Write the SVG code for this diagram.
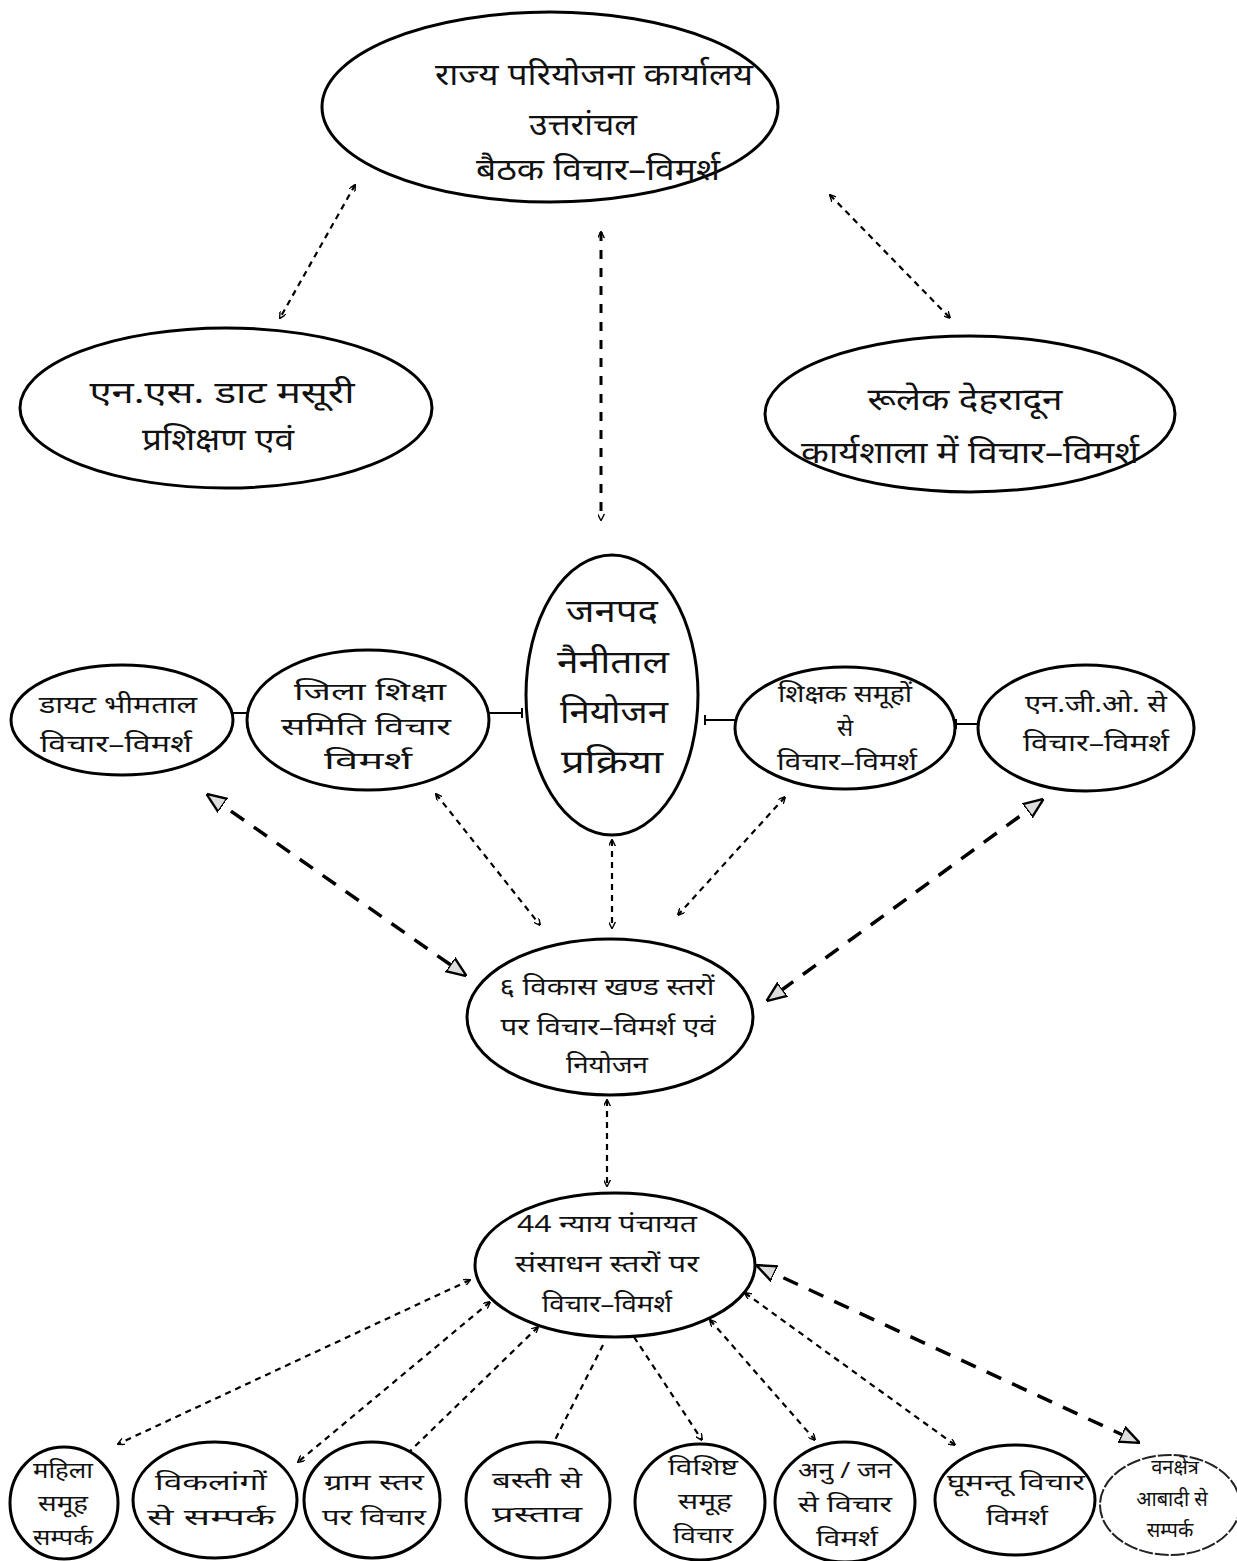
<svg xmlns="http://www.w3.org/2000/svg" width="1237" height="1561" viewBox="0 0 1237 1561">
<defs>
<style>
.n{fill:#fff;stroke:#000;stroke-width:3}
.nf{fill:#fff;stroke:#222;stroke-width:2;stroke-dasharray:14 2}
.t{font-family:"Noto Sans","Noto Sans Devanagari","Lohit Devanagari",sans-serif;fill:#111;text-anchor:middle}
.c{fill:none;stroke:#000;stroke-width:2.2;stroke-dasharray:6 5}
.cb{fill:none;stroke:#000;stroke-width:3.5;stroke-dasharray:16 12}
.cv{fill:none;stroke:#000;stroke-width:3;stroke-dasharray:9 9}
.h{fill:none;stroke:#000;stroke-width:2}
</style>
<marker id="a" viewBox="0 0 10 10" refX="9" refY="5" markerWidth="7" markerHeight="7" orient="auto-start-reverse" markerUnits="userSpaceOnUse">
<path d="M0,0 L10,5 L0,10" fill="none" stroke="#000" stroke-width="2"/>
</marker>
<marker id="ab" viewBox="0 0 10 10" refX="9" refY="5" markerWidth="20" markerHeight="20" orient="auto-start-reverse" markerUnits="userSpaceOnUse">
<path d="M0,1 L10,5 L0,9 Z" fill="#ddd" stroke="#000" stroke-width="1.2"/>
</marker>
</defs>
<rect width="1237" height="1561" fill="#fff"/>

<g id="connectors">
<line class="c" x1="355" y1="185" x2="280" y2="318" marker-start="url(#a)" marker-end="url(#a)"/>
<line class="cv" x1="601" y1="232" x2="601" y2="520" marker-start="url(#a)" marker-end="url(#a)"/>
<line class="c" x1="830" y1="195" x2="950" y2="318" marker-start="url(#a)" marker-end="url(#a)"/>
<line class="h" x1="233" y1="713" x2="248" y2="713"/><line class="h" x1="248" y1="708" x2="248" y2="718"/>
<line class="h" x1="488" y1="713" x2="522" y2="713"/><line class="h" x1="522" y1="708" x2="522" y2="718"/>
<line class="h" x1="705" y1="720" x2="736" y2="720"/><line class="h" x1="705" y1="715" x2="705" y2="725"/>
<line class="h" x1="956" y1="724" x2="978" y2="724"/><line class="h" x1="956" y1="719" x2="956" y2="729"/>
<line class="cb" x1="208" y1="795" x2="465" y2="975" marker-start="url(#ab)" marker-end="url(#ab)"/>
<line class="c" x1="436" y1="794" x2="540" y2="925" marker-start="url(#a)" marker-end="url(#a)"/>
<line class="c" x1="612" y1="840" x2="612" y2="928" marker-start="url(#a)" marker-end="url(#a)"/>
<line class="c" x1="785" y1="797" x2="678" y2="915" marker-start="url(#a)" marker-end="url(#a)"/>
<line class="cb" x1="1042" y1="800" x2="768" y2="1000" marker-start="url(#ab)" marker-end="url(#ab)"/>
<line class="c" x1="607" y1="1100" x2="607" y2="1186" marker-start="url(#a)" marker-end="url(#a)"/>
<line class="c" x1="470" y1="1280" x2="118" y2="1444" marker-start="url(#a)" marker-end="url(#a)"/>
<line class="c" x1="490" y1="1302" x2="298" y2="1462" marker-start="url(#a)" marker-end="url(#a)"/>
<line class="c" x1="538" y1="1327" x2="405" y2="1456" marker-start="url(#a)" marker-end="url(#a)"/>
<line class="c" x1="603" y1="1345" x2="555" y2="1440"/>
<line class="c" x1="634" y1="1337" x2="702" y2="1440" marker-end="url(#a)"/>
<line class="c" x1="710" y1="1320" x2="815" y2="1440" marker-start="url(#a)" marker-end="url(#a)"/>
<line class="c" x1="745" y1="1293" x2="955" y2="1445" marker-start="url(#a)" marker-end="url(#a)"/>
<line class="cb" x1="758" y1="1266" x2="1138" y2="1442" marker-start="url(#ab)" marker-end="url(#ab)"/>
</g>

<g id="n-top"><ellipse class="n" cx="550" cy="107" rx="228" ry="95"/>
<text class="t" font-size="31"><tspan x="594" y="85" textLength="318" lengthAdjust="spacingAndGlyphs">राज्य परियोजना कार्यालय</tspan><tspan x="583" y="135" textLength="108" lengthAdjust="spacingAndGlyphs">उत्तरांचल</tspan><tspan x="598" y="180" textLength="244" lengthAdjust="spacingAndGlyphs">बैठक विचार–विमर्श</tspan></text></g>

<g id="n-nsdat"><ellipse class="n" cx="226" cy="408" rx="206" ry="80"/>
<text class="t" font-size="31"><tspan x="222" y="403" textLength="265" lengthAdjust="spacingAndGlyphs">एन.एस. डाट मसूरी</tspan><tspan x="218" y="450" textLength="152" lengthAdjust="spacingAndGlyphs">प्रशिक्षण एवं</tspan></text></g>

<g id="n-rulek"><ellipse class="n" cx="970" cy="414" rx="205" ry="78"/>
<text class="t" font-size="31"><tspan x="965" y="410" textLength="195" lengthAdjust="spacingAndGlyphs">रूलेक देहरादून</tspan><tspan x="970" y="463" textLength="338" lengthAdjust="spacingAndGlyphs">कार्यशाला में विचार–विमर्श</tspan></text></g>

<g id="n-janpad"><ellipse class="n" cx="612" cy="695" rx="86" ry="140"/>
<text class="t" font-size="32"><tspan x="612" y="622" textLength="92" lengthAdjust="spacingAndGlyphs">जनपद</tspan><tspan x="613" y="673" textLength="112" lengthAdjust="spacingAndGlyphs">नैनीताल</tspan><tspan x="614" y="723" textLength="108" lengthAdjust="spacingAndGlyphs">नियोजन</tspan><tspan x="612" y="773" textLength="102" lengthAdjust="spacingAndGlyphs">प्रक्रिया</tspan></text></g>

<g id="n-diet"><ellipse class="n" cx="122" cy="720" rx="111" ry="55"/>
<text class="t" font-size="24"><tspan x="118" y="713" textLength="158" lengthAdjust="spacingAndGlyphs">डायट भीमताल</tspan><tspan x="116" y="752" textLength="152" lengthAdjust="spacingAndGlyphs">विचार–विमर्श</tspan></text></g>

<g id="n-jila"><ellipse class="n" cx="368" cy="720" rx="121" ry="70"/>
<text class="t" font-size="24"><tspan x="370" y="700" textLength="152" lengthAdjust="spacingAndGlyphs">जिला शिक्षा</tspan><tspan x="366" y="735" textLength="170" lengthAdjust="spacingAndGlyphs">समिति विचार</tspan><tspan x="368" y="769" textLength="88" lengthAdjust="spacingAndGlyphs">विमर्श</tspan></text></g>

<g id="n-shikshak"><ellipse class="n" cx="845" cy="728" rx="110" ry="61"/>
<text class="t" font-size="24"><tspan x="845" y="702" textLength="134" lengthAdjust="spacingAndGlyphs">शिक्षक समूहों</tspan><tspan x="845" y="736">से</tspan><tspan x="847" y="770" textLength="140" lengthAdjust="spacingAndGlyphs">विचार–विमर्श</tspan></text></g>

<g id="n-ngo"><ellipse class="n" cx="1086" cy="728" rx="108" ry="63"/>
<text class="t" font-size="24"><tspan x="1096" y="712" textLength="142" lengthAdjust="spacingAndGlyphs">एन.जी.ओ. से</tspan><tspan x="1096" y="751" textLength="146" lengthAdjust="spacingAndGlyphs">विचार–विमर्श</tspan></text></g>

<g id="n-block"><ellipse class="n" cx="610" cy="1017" rx="143" ry="78"/>
<text class="t" font-size="24"><tspan x="607" y="995" textLength="215" lengthAdjust="spacingAndGlyphs">६ विकास खण्ड स्तरों</tspan><tspan x="608" y="1035" textLength="215" lengthAdjust="spacingAndGlyphs">पर विचार–विमर्श एवं</tspan><tspan x="607" y="1073" textLength="82" lengthAdjust="spacingAndGlyphs">नियोजन</tspan></text></g>

<g id="n-nyay"><ellipse class="n" cx="615" cy="1265" rx="140" ry="72"/>
<text class="t" font-size="24"><tspan x="607" y="1232" textLength="180" lengthAdjust="spacingAndGlyphs">44 न्याय पंचायत</tspan><tspan x="607" y="1272" textLength="184" lengthAdjust="spacingAndGlyphs">संसाधन स्तरों पर</tspan><tspan x="607" y="1312" textLength="130" lengthAdjust="spacingAndGlyphs">विचार–विमर्श</tspan></text></g>

<g id="n-b1"><ellipse class="n" cx="64" cy="1503" rx="54" ry="56"/>
<text class="t" font-size="22"><tspan x="63" y="1478" textLength="60" lengthAdjust="spacingAndGlyphs">महिला</tspan><tspan x="63" y="1511" textLength="50" lengthAdjust="spacingAndGlyphs">समूह</tspan><tspan x="63" y="1545" textLength="60" lengthAdjust="spacingAndGlyphs">सम्पर्क</tspan></text></g>
<g id="n-b2"><ellipse class="n" cx="215" cy="1500" rx="82" ry="58"/>
<text class="t" font-size="22"><tspan x="211" y="1490" textLength="112" lengthAdjust="spacingAndGlyphs">विकलांगों</tspan><tspan x="211" y="1525" textLength="128" lengthAdjust="spacingAndGlyphs">से सम्पर्क</tspan></text></g>
<g id="n-b3"><ellipse class="n" cx="372" cy="1500" rx="68" ry="58"/>
<text class="t" font-size="22"><tspan x="374" y="1490" textLength="100" lengthAdjust="spacingAndGlyphs">ग्राम स्तर</tspan><tspan x="374" y="1525" textLength="104" lengthAdjust="spacingAndGlyphs">पर विचार</tspan></text></g>
<g id="n-b4"><ellipse class="n" cx="538" cy="1500" rx="72" ry="58"/>
<text class="t" font-size="22"><tspan x="537" y="1488" textLength="90" lengthAdjust="spacingAndGlyphs">बस्ती से</tspan><tspan x="537" y="1522" textLength="90" lengthAdjust="spacingAndGlyphs">प्रस्ताव</tspan></text></g>
<g id="n-b5"><ellipse class="n" cx="700" cy="1502" rx="65" ry="58"/>
<text class="t" font-size="22"><tspan x="703" y="1475" textLength="70" lengthAdjust="spacingAndGlyphs">विशिष्ट</tspan><tspan x="705" y="1509" textLength="54" lengthAdjust="spacingAndGlyphs">समूह</tspan><tspan x="703" y="1543" textLength="60" lengthAdjust="spacingAndGlyphs">विचार</tspan></text></g>
<g id="n-b6"><ellipse class="n" cx="845" cy="1502" rx="70" ry="60"/>
<text class="t" font-size="22"><tspan x="845" y="1478" textLength="94" lengthAdjust="spacingAndGlyphs">अनु / जन</tspan><tspan x="845" y="1512" textLength="94" lengthAdjust="spacingAndGlyphs">से विचार</tspan><tspan x="847" y="1546" textLength="62" lengthAdjust="spacingAndGlyphs">विमर्श</tspan></text></g>
<g id="n-b7"><ellipse class="n" cx="1015" cy="1500" rx="80" ry="55"/>
<text class="t" font-size="22"><tspan x="1016" y="1490" textLength="138" lengthAdjust="spacingAndGlyphs">घूमन्तू विचार</tspan><tspan x="1017" y="1525" textLength="62" lengthAdjust="spacingAndGlyphs">विमर्श</tspan></text></g>
<g id="n-b8"><ellipse class="nf" cx="1170" cy="1505" rx="70" ry="50"/>
<text class="t" font-size="20"><tspan x="1175" y="1474">वनक्षेत्र</tspan><tspan x="1172" y="1506">आबादी से</tspan><tspan x="1170" y="1537">सम्पर्क</tspan></text></g>
</svg>
